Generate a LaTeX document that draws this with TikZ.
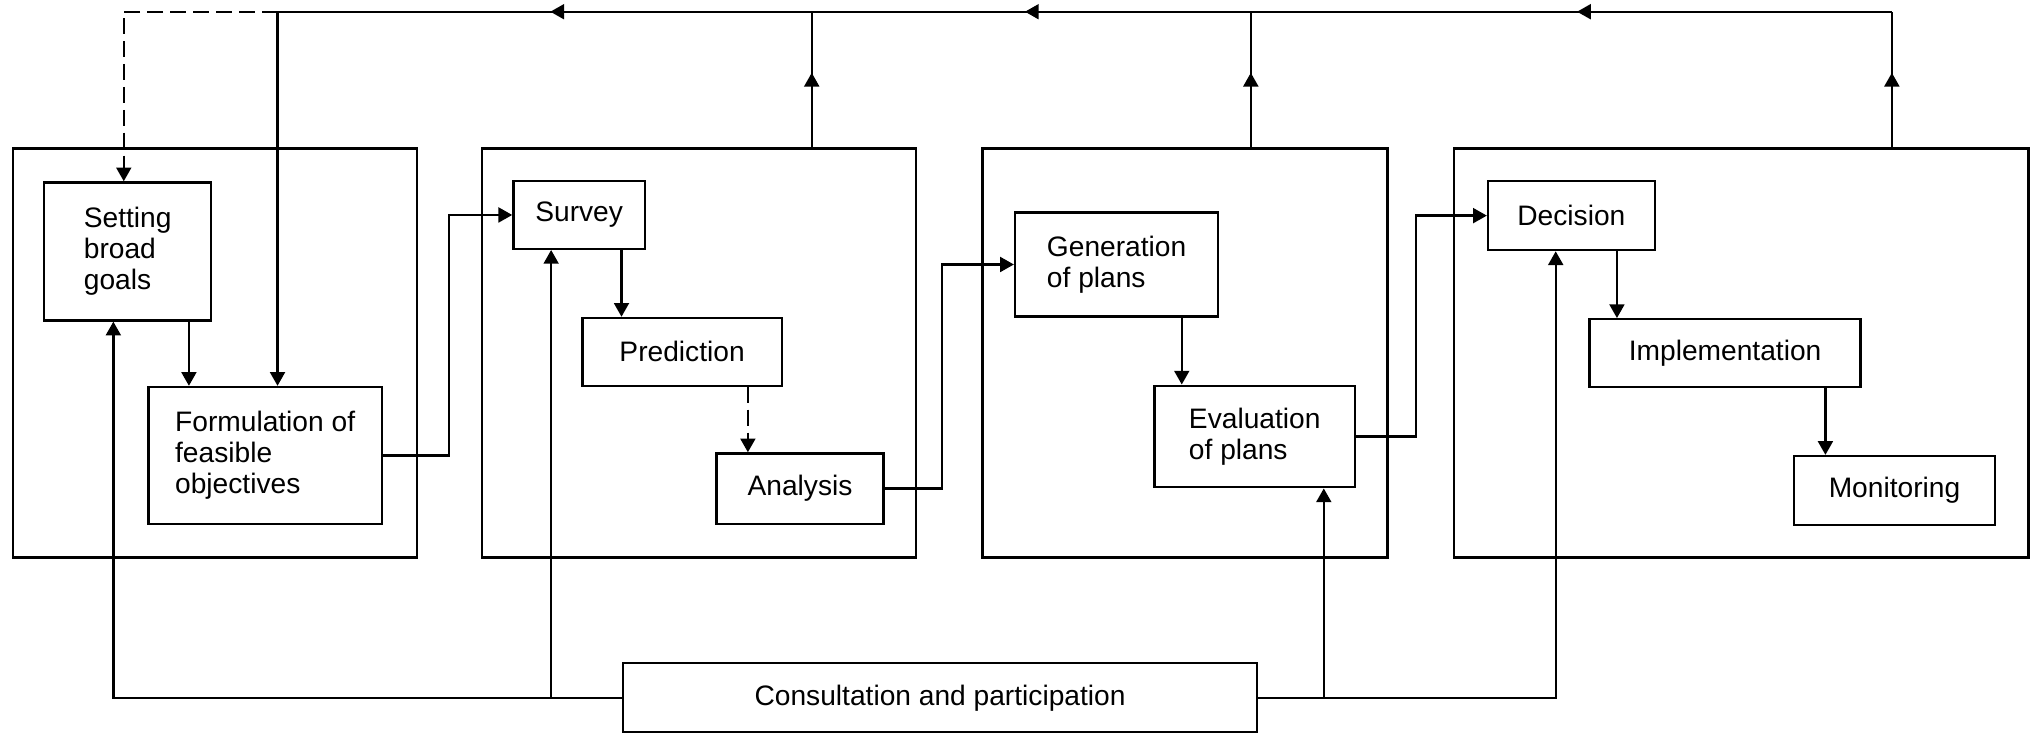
\documentclass[tikz,border=0pt]{standalone}
\usepackage{fontspec}
\setmainfont{Liberation Sans}
\usetikzlibrary{arrows.meta}
\usetikzlibrary{decorations.markings}

\begin{document}
\begin{tikzpicture}[x=0.02cm,y=-0.02cm,>={Triangle[length=6pt,width=6.5pt]},line width=1pt,
    every node/.style={font=\fontsize{12.3}{13.6}\selectfont},
    stage/.style={draw,inner sep=0pt,minimum height=6.28cm},
    task/.style={draw,inner sep=0pt,align=left},
    upflow/.style={postaction={decorate},decoration={markings,mark=at position 0.55 with {\arrow{>}}}},
    backflow/.style={postaction={decorate},decoration={markings,
        mark=at position 0.195 with {\arrow{>}},
        mark=at position 0.537 with {\arrow{>}},
        mark=at position 0.831 with {\arrow{>}}}}]
    \useasboundingbox (0,0) rectangle (1568,563);
    \node[stage,minimum width=6.2cm] (frameA) at (165,271) {};
    \node[stage,minimum width=6.66cm] (frameB) at (536.5,271) {};
    \node[stage,minimum width=6.22cm] (frameC) at (909.5,271) {};
    \node[stage,minimum width=8.82cm] (frameD) at (1336.5,271) {};
    \node[task,minimum width=2.56cm,minimum height=2.12cm] (setting) at (98,193) {Setting\\broad\\goals};
    \node[task,minimum width=3.58cm,minimum height=2.1cm] (formulation) at (203.5,349.5) {Formulation of\\feasible\\objectives};
    \node[task,minimum width=2.02cm,minimum height=1.04cm] (survey) at (444.5,165) {Survey};
    \node[task,minimum width=3.06cm,minimum height=1.04cm] (prediction) at (523.5,270) {Prediction};
    \node[task,minimum width=2.56cm,minimum height=1.08cm] (analysis) at (614,375) {Analysis};
    \node[task,minimum width=3.12cm,minimum height=1.6cm] (generation) at (857,203) {Generation\\of plans};
    \node[task,minimum width=3.08cm,minimum height=1.56cm] (evaluation) at (963,335) {Evaluation\\of plans};
    \node[task,minimum width=2.56cm,minimum height=1.06cm] (decision) at (1206,165.5) {Decision};
    \node[task,minimum width=4.16cm,minimum height=1.04cm] (implementation) at (1324,271) {Implementation};
    \node[task,minimum width=3.08cm,minimum height=1.06cm] (monitoring) at (1454,376.5) {Monitoring};
    \node[task,minimum width=9.74cm,minimum height=1.06cm] (consult) at (721.5,535.5) {Consultation and participation};

    \coordinate (fbB) at (623,9);
    \coordinate (fbC) at (960,9);
    \coordinate (fbD) at (1452,9);
    \coordinate (fbA) at (213,9);
    \coordinate (cL) at (87,535.5);
    \coordinate (cS) at (423,535.5);
    \coordinate (cE) at (1016,535.5);
    \coordinate (cR) at (1194,535.5);

    \draw[->] (setting.south -| 145,0) -- (formulation.north -| 145,0);
    \draw[->] (formulation.east) -- ++(51,0) |- (survey.west);
    \draw[->] (survey.south -| 477,0) -- (prediction.north -| 477,0);
    \draw[->,dash pattern=on 7pt off 3pt] (prediction.south -| 574,0) -- (analysis.north -| 574,0);
    \draw[->] (analysis.east) -- ++(44,0) |- (generation.west);
    \draw[->] (generation.south -| 907,0) -- (evaluation.north -| 907,0);
    \draw[->] (evaluation.east) -- ++(46,0) |- (decision.west);
    \draw[->] (decision.south -| 1241,0) -- (implementation.north -| 1241,0);
    \draw[->] (implementation.south -| 1401,0) -- (monitoring.north -| 1401,0);

    \draw[upflow] (frameB.north -| fbB) -- (fbB);
    \draw[upflow] (frameC.north -| fbC) -- (fbC);
    \draw[upflow] (frameD.north -| fbD) -- (fbD);
    \draw[backflow] (fbD) -- (fbA);
    \draw[->] (fbA) -- (formulation.north -| fbA);
    \draw[->,dash pattern=on 7pt off 3pt] (fbA) -| (setting.north -| 95,0);

    \draw[->] (consult.west) -| (setting.south -| cL);
    \draw[->] (cS) -- (survey.south -| cS);
    \draw[->] (consult.east) -| (decision.south -| cR);
    \draw[->] (cE) -- (evaluation.south -| cE);
\end{tikzpicture}
\end{document}
